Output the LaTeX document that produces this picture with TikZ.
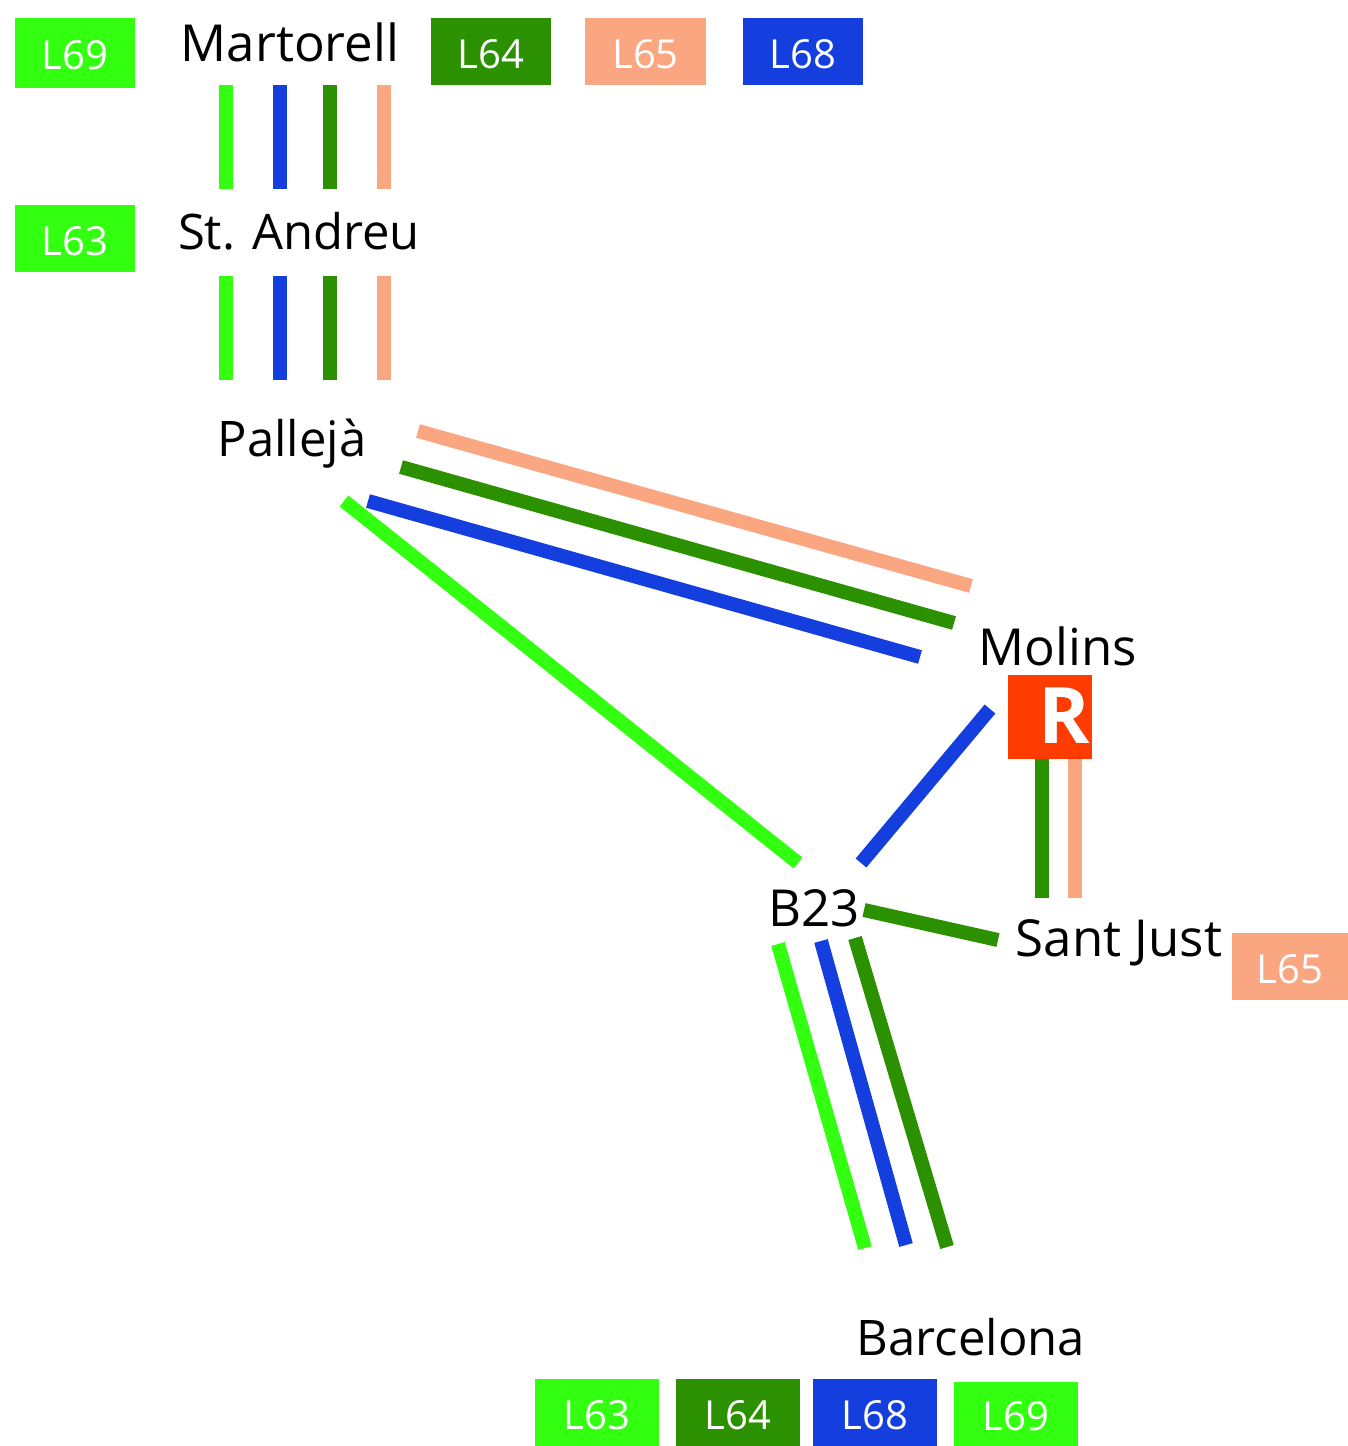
\documentclass[tikz,border=0pt]{standalone}
\usepackage{fontspec}
\setmainfont{Open Sans}
\usetikzlibrary{positioning}
\definecolor{lgreen}{RGB}{51,255,17}
\definecolor{dgreen}{RGB}{43,145,0}
\definecolor{lblue}{RGB}{20,62,221}
\definecolor{lsalmon}{RGB}{250,166,128}
\definecolor{lred}{RGB}{255,60,0}
\begin{document}
\begin{tikzpicture}[x=1pt,y=-1pt]
\tikzstyle{station}=[inner sep=0pt, text=black, font=\fontsize{51}{51}\selectfont, anchor=base]
\tikzstyle{narrow}=[font=\fontsize{49}{49}\selectfont]
\tikzstyle{linebox}=[rectangle, inner sep=0pt, minimum width=120pt, minimum height=67pt, text=white, text height=33pt, text depth=0pt, font=\fontsize{40}{40}\selectfont]
\tikzstyle{track}=[line width=14pt]
\useasboundingbox (0,0) rectangle (1348,1446);
\node[linebox, fill=lgreen, minimum height=70pt] (l69a) at (75,53) {L69};
\node[linebox, fill=dgreen] (l64a) at (491,51.5) {L64};
\node[linebox, fill=lsalmon, minimum width=121pt] (l65a) at (645.5,51.5) {L65};
\node[linebox, fill=lblue] (l68a) at (803,51.5) {L68};
\node[linebox, fill=lgreen] (l63a) at (75,238.5) {L63};
\node[linebox, fill=lsalmon, minimum width=116pt] (l65b) at (1290,966.5) {L65};
\node[linebox, fill=lgreen, minimum width=124pt] (l63b) at (597,1412.5) {L63};
\node[linebox, fill=dgreen, minimum width=124pt] (l64b) at (738,1412.5) {L64};
\node[linebox, fill=lblue, minimum width=124pt] (l68b) at (875,1412.5) {L68};
\node[linebox, fill=lgreen, minimum width=124pt, minimum height=64pt] (l69b) at (1016,1414) {L69};
\node[station] (martorell) at (290,61) {Martorell};
\node[station, narrow] (andreu) at (299,249) {St. Andreu};
\node[station, narrow] (palleja) at (292,456) {Pallejà};
\node[station] (molins) at (1058,665) {Molins};
\node[station] (b23) at (814,926) {B23};
\node[station] (just) at (1119,956) {Sant Just};
\node[station, narrow] (barcelona) at (971,1355) {Barcelona};
\node[rectangle, fill=lred, minimum size=84pt, inner sep=0pt, text=white, font=\fontsize{78}{78}\selectfont\bfseries] (renfe) at (1050,717) {\hspace{28pt}\raisebox{3pt}{R}};
% top two sections
\foreach \x/\c in {226/lgreen,280/lblue,330/dgreen,384/lsalmon}{
  \coordinate (a\x) at (\x,85);
  \coordinate (b\x) at (\x,189);
  \coordinate (c\x) at (\x,276);
  \coordinate (d\x) at (\x,380);
  \draw[track, draw=\c] (a\x) -- (b\x);
  \draw[track, draw=\c] (c\x) -- (d\x);
}
% Pallejà to Molins
\coordinate (p1) at (418,431);
\coordinate (m1) at (971,586);
\coordinate (p2) at (401,467);
\coordinate (m2) at (954,623);
\coordinate (p3) at (368,501);
\coordinate (m3) at (920,657);
\draw[track, draw=lsalmon] (p1) -- (m1);
\draw[track, draw=dgreen] (p2) -- (m2);
\draw[track, draw=lblue] (p3) -- (m3);
% Pallejà to B23
\coordinate (p4) at (344,501);
\coordinate (b4) at (798,863);
\draw[track, draw=lgreen] (p4) -- (b4);
% Molins to B23
\coordinate (m5) at (990,709);
\coordinate (b5) at (861,863);
\draw[track, draw=lblue] (m5) -- (b5);
% Molins to Sant Just
\coordinate (m6) at (1042,759);
\coordinate (j6) at (1042,898);
\coordinate (m7) at (1075,759);
\coordinate (j7) at (1075,898);
\draw[track, draw=dgreen] (m6) -- (j6);
\draw[track, draw=lsalmon] (m7) -- (j7);
\coordinate (b8) at (864,910);
\coordinate (j8) at (998,940);
\draw[track, draw=dgreen] (b8) -- (j8);
% B23 to Barcelona
\coordinate (b9) at (778,944);
\coordinate (e9) at (865,1248);
\coordinate (b10) at (821,941);
\coordinate (e10) at (906,1245);
\coordinate (b11) at (855,938);
\coordinate (e11) at (947,1247);
\draw[track, draw=lgreen] (b9) -- (e9);
\draw[track, draw=lblue] (b10) -- (e10);
\draw[track, draw=dgreen] (b11) -- (e11);
\end{tikzpicture}
\end{document}
